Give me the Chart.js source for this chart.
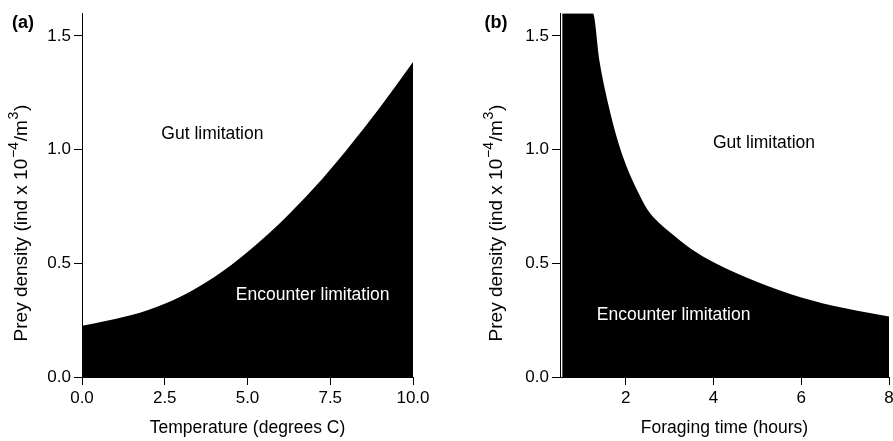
<!DOCTYPE html>
<html>
<head>
<meta charset="utf-8">
<script src="https://cdn.jsdelivr.net/npm/chart.js@4"></script>
<style>
  html, body { margin: 0; padding: 0; background: #fff; overflow: hidden; }
  #wrap { position: relative; width: 893px; height: 441px; overflow: hidden; }
  #panelA { position: absolute; left: 0; top: 0; }
  #panelB { position: absolute; left: 446px; top: 0; }
</style>
</head>
<body>
<div id="wrap">
  <canvas id="panelA" width="446" height="441"></canvas>
  <canvas id="panelB" width="460" height="441"></canvas>
</div>
<script>
// panel (a): threshold prey density vs temperature
const tempC = [0, 1, 2, 3, 4, 5, 6, 7, 8, 9, 10];
const tempPrey = [0.225, 0.255, 0.295, 0.355, 0.44, 0.55, 0.68, 0.83, 1.0, 1.185, 1.385];
const tempTicks = [0, 2.5, 5, 7.5, 10];

// panel (b): threshold prey density vs foraging time
const forageHours = [0.55, 1.25, 1.4, 1.6, 1.8, 2, 2.25, 2.5, 2.75, 3, 3.5, 4, 5, 6, 7, 8];
const foragePrey = [1.6, 1.6, 1.39, 1.2, 1.05, 0.935, 0.825, 0.735, 0.68, 0.638, 0.562, 0.505, 0.418, 0.35, 0.302, 0.266];
const forageTicks = [2, 4, 6, 8];

const preyTicks = [0, 0.5, 1.0, 1.5];

const FONT = '"Liberation Sans", Arial, sans-serif';

// free text: region labels (data coords), panel letter and y-axis title
const notesPlugin = {
    id: 'notes',
    afterDatasetsDraw(chart, args, opts) {
        const ctx = chart.ctx;
        const xs = chart.scales.x, ys = chart.scales.y;
        ctx.save();
        ctx.textAlign = 'center';
        ctx.textBaseline = 'middle';
        opts.regions.forEach(r => {
            ctx.font = '17.5px ' + FONT;
            ctx.fillStyle = r.color;
            ctx.fillText(r.text, xs.getPixelForValue(r.x), ys.getPixelForValue(r.y));
        });

        ctx.fillStyle = '#000';
        ctx.font = 'bold 18px ' + FONT;
        ctx.fillText(opts.letter, opts.letterPos[0], opts.letterPos[1]);

        // y title with superscripts, rotated
        const size = 19, supSize = 14;
        const parts = [
            { t: 'Prey density (ind x 10' },
            { t: '\u22124', sup: true },
            { t: '/m' },
            { t: '3', sup: true },
            { t: ')' }
        ];
        let total = 0;
        parts.forEach(p => {
            ctx.font = (p.sup ? supSize : size) + 'px ' + FONT;
            p.w = ctx.measureText(p.t).width + (p.sup ? 1.5 : 0);
            total += p.w;
        });
        ctx.translate(opts.yTitlePos[0], opts.yTitlePos[1]);
        ctx.rotate(-Math.PI / 2);
        ctx.textAlign = 'left';
        let cx = -total / 2;
        parts.forEach(p => {
            ctx.font = (p.sup ? supSize : size) + 'px ' + FONT;
            ctx.fillText(p.t, cx + (p.sup ? 0.75 : 0), p.sup ? -8 : 0);
            cx += p.w;
        });
        ctx.restore();
    }
};

function axisCommon(tickValues, fmt) {
    return {
        type: 'linear',
        afterBuildTicks: s => { s.ticks = tickValues.map(v => ({ value: v })); },
        grid: { display: true, drawOnChartArea: false, drawTicks: true, tickLength: 8, color: '#000', lineWidth: 1 },
        border: { display: true, color: '#000', width: 1 },
        ticks: {
            color: '#000',
            padding: 3,
            autoSkip: false,
            maxRotation: 0,
            font: { family: FONT, size: 17 },
            callback: fmt
        }
    };
}

function makePanel(canvasId, xs, ys, cfg) {
    const ctx = document.getElementById(canvasId).getContext('2d');
    const xAxis = axisCommon(cfg.xTicks, cfg.xFmt);
    xAxis.min = cfg.xMin;
    xAxis.max = cfg.xMax;
    xAxis.title = {
        display: true,
        text: cfg.xTitle,
        color: '#000',
        font: { family: FONT, size: 17.5 },
        padding: { top: 0, bottom: 2 }
    };
    xAxis.afterFit = s => { s.height = 64; };

    const yAxis = axisCommon(preyTicks, v => v.toFixed(1));
    yAxis.min = 0;
    yAxis.max = 1.6;
    yAxis.afterFit = s => { s.width = cfg.yWidth; };

    return new Chart(ctx, {
        type: 'line',
        data: {
            datasets: [{
                data: xs.map((x, i) => ({ x: x, y: ys[i] })),
                borderWidth: 0,
                borderColor: '#000',
                backgroundColor: '#000',
                fill: 'origin',
                pointRadius: 0,
                cubicInterpolationMode: 'monotone'
            }]
        },
        options: {
            responsive: false,
            animation: false,
            devicePixelRatio: 1,
            layout: { padding: { left: 0, top: 11, right: cfg.padRight, bottom: 0 } },
            scales: { x: xAxis, y: yAxis },
            plugins: {
                legend: { display: false },
                tooltip: { enabled: false },
                notes: {
                    regions: cfg.regions,
                    letter: cfg.letter,
                    letterPos: cfg.letterPos,
                    yTitlePos: cfg.yTitlePos
                }
            }
        },
        plugins: [notesPlugin]
    });
}

makePanel('panelA', tempC, tempPrey, {
    xMin: 0, xMax: 10,
    xTicks: tempTicks,
    xFmt: v => v.toFixed(1),
    xTitle: 'Temperature (degrees C)',
    yWidth: 82,
    padRight: 33,
    letter: '(a)',
    letterPos: [23, 23],
    yTitlePos: [22, 223],
    regions: [
        { text: 'Gut limitation', x: 3.94, y: 1.07, color: '#000' },
        { text: 'Encounter limitation', x: 6.97, y: 0.36, color: '#fff' }
    ]
});

makePanel('panelB', forageHours, foragePrey, {
    xMin: 0.5, xMax: 8,
    xTicks: forageTicks,
    xFmt: v => String(v),
    xTitle: 'Foraging time (hours)',
    yWidth: 114,
    padRight: 17,
    letter: '(b)',
    letterPos: [50, 23],
    yTitlePos: [51, 223],
    regions: [
        { text: 'Gut limitation', x: 5.15, y: 1.03, color: '#000' },
        { text: 'Encounter limitation', x: 3.09, y: 0.27, color: '#fff' }
    ]
});
</script>
</body>
</html>
